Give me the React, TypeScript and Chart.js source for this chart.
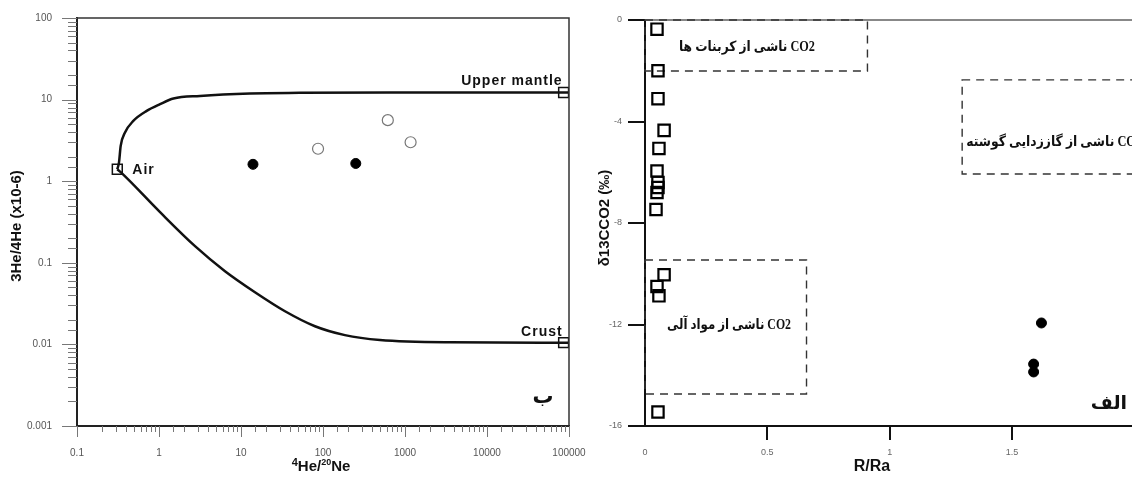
import React, { useEffect, useRef } from 'react';
import { Chart, registerables } from 'chart.js';
Chart.register(...registerables);

// ---------- Left panel (ب): 3He/4He vs 4He/20Ne ----------
const upperCurveX = [0.31, 0.325, 0.341, 0.385, 0.486, 0.708, 1.03, 1.5, 3.16, 12.9, 52, 1000, 100000];
const upperCurveY = [1.4, 1.69, 2.71, 3.95, 5.48, 7.27, 8.79, 10.3, 11.1, 11.9, 12.1, 12.2, 12.2];
const lowerCurveX = [0.31, 0.341, 1.03, 2.75, 6.38, 14.8, 34.4, 79.8, 185, 495, 3540, 100000];
const lowerCurveY = [1.4, 1.29, 0.417, 0.16, 0.0789, 0.0436, 0.0255, 0.0167, 0.013, 0.0113, 0.0106, 0.0105];
const endMemberNames = ['Air', 'Upper mantle', 'Crust'];
const endMemberX = [0.31, 86000, 86000];
const endMemberY = [1.4, 12.2, 0.0105];
const filledHeX = [14, 251];
const filledHeY = [1.61, 1.65];
const openHeX = [87, 617, 1170];
const openHeY = [2.5, 5.6, 3.0];
const leftXTickLabels = ['0.1', '1', '10', '100', '1000', '10000', '100000'];
const leftYTickLabels = ['0.001', '0.01', '0.1', '1', '10', '100'];

// ---------- Right panel (الف): δ13C vs R/Ra ----------
const squareRX = [0.049, 0.053, 0.053, 0.078, 0.057, 0.049, 0.053, 0.053, 0.049, 0.045, 0.078, 0.049, 0.057, 0.053];
const squareDelta = [-0.36, -2.0, -3.1, -4.35, -5.06, -5.95, -6.4, -6.6, -6.8, -7.47, -10.04, -10.5, -10.87, -15.45];
const dotRX = [1.62, 1.588, 1.588];
const dotDelta = [-11.94, -13.56, -13.87];
const boxNames = ['CO2 ناشی از کربنات ها', 'CO2 ناشی از مواد آلی', 'CO2 ناشی از گاززدایی گوشته'];
const boxX1 = [0, 0, 1.296];
const boxX2 = [0.909, 0.66, 2.2];
const boxY1 = [-2.01, -14.74, -6.07];
const boxY2 = [0, -9.46, -2.36];
const rightXTickValues = [0, 0.5, 1, 1.5];
const rightXTickLabels = ['0', '0.5', '1', '1.5'];

const pts = (xs: number[], ys: number[]) => xs.map((x, i) => ({ x, y: ys[i] }));
const isDecade = (v: number) => Math.abs(Math.log10(v) - Math.round(Math.log10(v))) < 1e-6;
const SANS = "'Liberation Sans', Arial, sans-serif";

function spacedText(ctx: any, text: string, x: number, y: number, align: string, spacing: number) {
  ctx.save();
  ctx.letterSpacing = spacing + 'px';
  ctx.textAlign = align;
  ctx.fillText(text, x, y);
  ctx.restore();
}

const leftPlugin = {
  id: 'leftDecor',
  afterDraw(chart: any) {
    const { ctx, chartArea: a, scales } = chart;
    const x = scales.x, y = scales.y;
    ctx.save();
    // frame
    ctx.strokeStyle = '#333';
    ctx.lineWidth = 1.5;
    ctx.beginPath();
    ctx.moveTo(a.left, a.top);
    ctx.lineTo(a.right, a.top);
    ctx.lineTo(a.right, a.bottom);
    ctx.stroke();
    // tick marks
    ctx.strokeStyle = '#777';
    ctx.lineWidth = 1;
    for (const t of y.ticks) {
      const py = Math.round(y.getPixelForValue(t.value)) + 0.5;
      const len = isDecade(t.value) ? 15 : 9;
      ctx.beginPath(); ctx.moveTo(a.left - len, py); ctx.lineTo(a.left, py); ctx.stroke();
    }
    for (const t of x.ticks) {
      const px = Math.round(x.getPixelForValue(t.value)) + 0.5;
      const len = isDecade(t.value) ? 11 : 6;
      ctx.beginPath(); ctx.moveTo(px, a.bottom); ctx.lineTo(px, a.bottom + len); ctx.stroke();
    }
    // end-member labels
    ctx.fillStyle = '#111';
    ctx.font = `bold 14px ${SANS}`;
    ctx.textBaseline = 'middle';
    const ax = x.getPixelForValue(endMemberX[0]), ay = y.getPixelForValue(endMemberY[0]);
    spacedText(ctx, endMemberNames[0], ax + 15, ay + 1, 'left', 1);
    const mx = x.getPixelForValue(endMemberX[1]), my = y.getPixelForValue(endMemberY[1]);
    spacedText(ctx, endMemberNames[1], mx - 1, my - 11, 'right', 1);
    const cx = x.getPixelForValue(endMemberX[2]), cy = y.getPixelForValue(endMemberY[2]);
    spacedText(ctx, endMemberNames[2], cx - 1, cy - 11, 'right', 1);
    // panel letter
    ctx.font = "bold 21px 'DejaVu Sans', sans-serif";
    ctx.textAlign = 'center';
    ctx.direction = 'rtl';
    ctx.fillText('ب', a.right - 26, a.bottom - 28);
    ctx.direction = 'ltr';
    // y title
    ctx.save();
    ctx.translate(17, (a.top + a.bottom) / 2 + 4);
    ctx.rotate(-Math.PI / 2);
    ctx.font = `bold 15px ${SANS}`;
    ctx.textAlign = 'center';
    ctx.fillText('3He/4He (x10-6)', 0, 0);
    ctx.restore();
    // x title: 4He/20Ne with superscripts
    const parts = [
      { t: '4', size: 11, dy: -5 },
      { t: 'He/', size: 15, dy: 0 },
      { t: '20', size: 9, dy: -6 },
      { t: 'Ne', size: 15, dy: 0 },
    ];
    ctx.textBaseline = 'alphabetic';
    ctx.textAlign = 'left';
    let total = 0;
    for (const p of parts) { ctx.font = `bold ${p.size}px ${SANS}`; total += ctx.measureText(p.t).width; }
    let sx = (a.left + a.right) / 2 - 2 - total / 2;
    for (const p of parts) {
      ctx.font = `bold ${p.size}px ${SANS}`;
      ctx.fillText(p.t, sx, 471 + p.dy);
      sx += ctx.measureText(p.t).width;
    }
    ctx.restore();
  },
};

const rightPlugin = {
  id: 'rightDecor',
  beforeDatasetsDraw(chart: any) {
    const { ctx, chartArea: a, scales } = chart;
    const x = scales.x, y = scales.y;
    ctx.save();
    // top line
    ctx.strokeStyle = '#888';
    ctx.lineWidth = 2;
    ctx.beginPath(); ctx.moveTo(a.left, a.top); ctx.lineTo(a.right + 5, a.top); ctx.stroke();
    // dashed boxes
    ctx.strokeStyle = '#333';
    ctx.lineWidth = 1.4;
    ctx.setLineDash([8, 6]);
    for (let i = 0; i < boxNames.length; i++) {
      const x1 = x.getPixelForValue(boxX1[i]), x2 = x.getPixelForValue(boxX2[i]);
      const y1 = y.getPixelForValue(boxY1[i]), y2 = y.getPixelForValue(boxY2[i]);
      ctx.strokeRect(x1, y2, x2 - x1, y1 - y2);
    }
    ctx.setLineDash([]);
    // box labels
    ctx.fillStyle = '#111';
    ctx.font = "bold 14px 'Liberation Serif', 'DejaVu Sans', serif";
    ctx.textBaseline = 'middle';
    ctx.direction = 'rtl';
    ctx.textAlign = 'center';
    const b0x = x.getPixelForValue(boxX1[0]) + 102, b0y = (y.getPixelForValue(boxY1[0]) + y.getPixelForValue(boxY2[0])) / 2 + 2;
    ctx.fillText(boxNames[0], b0x, b0y, 136);
    const b1x = x.getPixelForValue(boxX1[1]) + 84, b1y = y.getPixelForValue(boxY2[1]) + 65;
    ctx.fillText(boxNames[1], b1x, b1y, 124);
    ctx.textAlign = 'left';
    const b2x = x.getPixelForValue(boxX1[2]) + 4, b2y = y.getPixelForValue(boxY2[2]) + 63;
    ctx.fillText(boxNames[2], b2x, b2y, 176);
    ctx.restore();
  },
  afterDraw(chart: any) {
    const { ctx, chartArea: a } = chart;
    ctx.save();
    ctx.fillStyle = '#111';
    ctx.textBaseline = 'middle';
    // panel letter
    ctx.font = "bold 19px 'DejaVu Sans', sans-serif";
    ctx.direction = 'rtl';
    ctx.textAlign = 'center';
    ctx.fillText('الف', a.right - 23, a.bottom - 22);
    ctx.direction = 'ltr';
    // y title
    ctx.save();
    ctx.translate(15, 218);
    ctx.rotate(-Math.PI / 2);
    ctx.font = `bold 15px ${SANS}`;
    ctx.textAlign = 'center';
    ctx.fillText('δ13CCO2 (‰)', 0, 0);
    ctx.restore();
    // x title
    ctx.font = `bold 16px ${SANS}`;
    ctx.textAlign = 'center';
    ctx.textBaseline = 'alphabetic';
    ctx.fillText('R/Ra', a.left + 227, 471);
    ctx.restore();
  },
};

export default function App() {
  const leftRef = useRef<HTMLCanvasElement>(null);
  const rightRef = useRef<HTMLCanvasElement>(null);

  useEffect(() => {
    const left = new Chart(leftRef.current as HTMLCanvasElement, {
      type: 'scatter',
      data: {
        datasets: [
          { data: pts(upperCurveX, upperCurveY), showLine: true, borderColor: '#111', borderWidth: 2.5, pointRadius: 0, cubicInterpolationMode: 'monotone' } as any,
          { data: pts(lowerCurveX, lowerCurveY), showLine: true, borderColor: '#111', borderWidth: 2.5, pointRadius: 0, cubicInterpolationMode: 'monotone' } as any,
          { data: pts(endMemberX, endMemberY), pointStyle: 'rect', pointRadius: 7, borderColor: '#111', borderWidth: 1.5, backgroundColor: 'rgba(255,255,255,0)' },
          { data: pts(filledHeX, filledHeY), pointStyle: 'circle', pointRadius: 5, borderColor: '#000', borderWidth: 1, backgroundColor: '#000' },
          { data: pts(openHeX, openHeY), pointStyle: 'circle', pointRadius: 5.5, borderColor: '#777', borderWidth: 1.2, backgroundColor: '#fff' },
        ],
      },
      options: {
        animation: false,
        responsive: false,
        layout: { autoPadding: false, padding: { left: 0, right: 21, top: 18, bottom: 0 } },
        plugins: { legend: { display: false }, tooltip: { enabled: false } },
        scales: {
          x: {
            type: 'logarithmic', min: 0.1, max: 100000,
            afterFit: (s: any) => { s.height = 51; },
            border: { display: true, color: '#222', width: 2 },
            grid: { display: true, drawOnChartArea: false, drawTicks: true, tickLength: 19, color: 'rgba(0,0,0,0)' },
            ticks: {
              autoSkip: false, maxRotation: 0, padding: 2, color: '#555', font: { size: 10, family: SANS },
              callback: (v: any) => (isDecade(v) ? leftXTickLabels[Math.round(Math.log10(v)) + 1] : ''),
            },
          },
          y: {
            type: 'logarithmic', min: 0.001, max: 100,
            afterFit: (s: any) => { s.width = 77; },
            border: { display: true, color: '#222', width: 2 },
            grid: { display: true, drawOnChartArea: false, drawTicks: true, tickLength: 15, color: 'rgba(0,0,0,0)' },
            ticks: {
              autoSkip: false, padding: 10, color: '#555', font: { size: 10, family: SANS },
              callback: (v: any) => (isDecade(v) ? leftYTickLabels[Math.round(Math.log10(v)) + 3] : ''),
            },
          },
        },
      } as any,
      plugins: [leftPlugin],
    });

    const right = new Chart(rightRef.current as HTMLCanvasElement, {
      type: 'scatter',
      data: {
        datasets: [
          { data: pts(squareRX, squareDelta), pointStyle: 'rect', pointRadius: 8, borderColor: '#000', borderWidth: 2.2, backgroundColor: 'rgba(255,255,255,0)' },
          { data: pts(dotRX, dotDelta), pointStyle: 'circle', pointRadius: 5, borderColor: '#000', borderWidth: 1, backgroundColor: '#000' },
        ],
      },
      options: {
        animation: false,
        responsive: false,
        layout: { autoPadding: false, padding: { left: 0, right: 0, top: 20, bottom: 0 } },
        plugins: { legend: { display: false }, tooltip: { enabled: false } },
        scales: {
          x: {
            type: 'linear', min: 0, max: 1.99,
            afterFit: (s: any) => { s.height = 51; },
            border: { display: true, color: '#111', width: 2 },
            grid: {
              display: true, drawOnChartArea: false, drawTicks: true, tickLength: 14, lineWidth: 2,
              color: (c: any) => (c.tick && c.tick.value === 0 ? 'rgba(0,0,0,0)' : '#111'),
            },
            ticks: {
              stepSize: 0.5, includeBounds: false, maxRotation: 0, padding: 7, color: '#666', font: { size: 9, family: SANS },
              callback: (v: any) => {
                const i = rightXTickValues.findIndex((t) => Math.abs(t - v) < 1e-9);
                return i >= 0 ? rightXTickLabels[i] : '';
              },
            },
          },
          y: {
            type: 'linear', min: -16, max: 0,
            afterFit: (s: any) => { s.width = 55; },
            border: { display: true, color: '#111', width: 2 },
            grid: { display: true, drawOnChartArea: false, drawTicks: true, tickLength: 17, lineWidth: 2, color: '#111' },
            ticks: { stepSize: 4, padding: 6, color: '#666', font: { size: 9, family: SANS } },
          },
        },
      } as any,
      plugins: [rightPlugin],
    });

    return () => {
      left.destroy();
      right.destroy();
    };
  }, []);

  return (
    <div style={{ position: 'absolute', left: 0, top: 0, width: 1132, height: 477, overflow: 'hidden', background: '#fff' }}>
      <canvas ref={leftRef} width={590} height={477} style={{ position: 'absolute', left: 0, top: 0, width: 590, height: 477 }} />
      <canvas ref={rightRef} width={542} height={477} style={{ position: 'absolute', left: 590, top: 0, width: 542, height: 477 }} />
    </div>
  );
}
